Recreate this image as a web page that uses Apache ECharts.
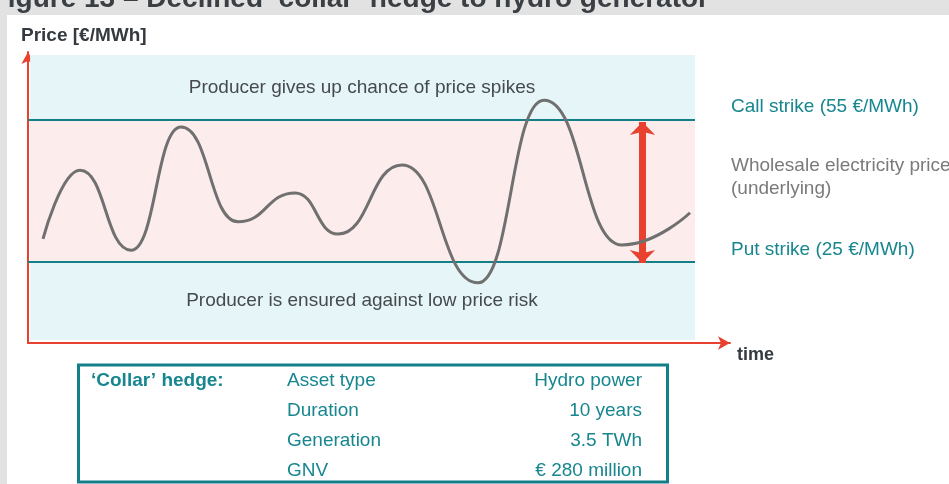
<!DOCTYPE html>
<html>
<head>
<meta charset="utf-8">
<title>Collar hedge</title>
<script src="https://cdn.jsdelivr.net/npm/echarts@6/dist/echarts.min.js"></script>
<style>
  html, body { margin: 0; padding: 0; background: #e2e2e2; }
  #chart { width: 949px; height: 484px; }
</style>
</head>
<body>
<div id="chart"></div>
<script>
// notional time axis, price in EUR/MWh
var timeVals  = [2.15, 7.46, 14.78, 21.95, 30.13, 38.31, 44.48, 53.66, 64.56, 74.03, 85.22, 94.98];
var priceVals = [29.9, 44.4, 27.5, 53.5, 33.5, 39.6, 30.9, 45.5, 20.6, 59.2, 28.6, 35.4];
var callStrike = 55;
var putStrike = 25;
var bandLabels = ['Producer gives up chance of price spikes', 'Producer is ensured against low price risk'];
var sideLabels = ['Call strike (55 €/MWh)', 'Wholesale electricity price', '(underlying)', 'Put strike (25 €/MWh)'];
var tableKeys   = ['Asset type', 'Duration', 'Generation', 'GNV'];
var tableValues = ['Hydro power', '10 years', '3.5 TWh', '€ 280 million'];

var red = '#e8412f', teal = '#137f88', tealText = '#17868f', dark = '#343a40';
var font = '"Liberation Sans", Arial, sans-serif';

var points = [];
for (var i = 0; i < timeVals.length; i++) points.push([timeVals[i], priceVals[i]]);

function label(x, y, text, size, color, align, bold) {
  return { type: 'text', x: x, y: y, z: 100,
    style: { text: text, font: (bold ? 'bold ' : '') + size + 'px ' + font, fill: color,
             align: align || 'left', verticalAlign: 'middle' } };
}

var graphics = [
  { type: 'rect', z: -10, shape: { x: 7, y: 15, width: 942, height: 469 }, style: { fill: '#ffffff' } },
  label(709, -1, 'Figure 13 – Declined ‘collar’ hedge to hydro generator', 28, '#3a3f44', 'right', true),
  label(21, 36, 'Price [€/MWh]', 19, dark, 'left', true),
  label(737, 355, 'time', 18, dark, 'left', true),
  label(362, 88, bandLabels[0], 19, '#454a4f', 'center'),
  label(362, 301, bandLabels[1], 19, '#454a4f', 'center'),
  label(731, 107, sideLabels[0], 19, tealText),
  label(731, 166, sideLabels[1], 19, '#7a7a7a'),
  label(731, 189, sideLabels[2], 19, '#7a7a7a'),
  label(731, 250, sideLabels[3], 19, tealText),
  { type: 'rect', z: 50, shape: { x: 78.5, y: 365, width: 589, height: 117 }, style: { fill: '#ffffff', stroke: teal, lineWidth: 3 } },
  label(91, 381, '‘Collar’ hedge:', 19, tealText, 'left', true)
];
for (var r = 0; r < tableKeys.length; r++) {
  graphics.push(label(287, 381 + r * 30, tableKeys[r], 19, tealText));
  graphics.push(label(642, 381 + r * 30, tableValues[r], 19, tealText, 'right'));
}

var chart = echarts.init(document.getElementById('chart'));
chart.setOption({
  backgroundColor: '#e2e2e2',
  animation: false,
  grid: { left: 28, top: 52, width: 702, height: 291 },
  xAxis: {
    type: 'value', min: 0, max: 100.72,
    axisLine: { lineStyle: { color: red, width: 2 }, symbol: ['none', 'arrow'], symbolSize: [10, 12] },
    axisTick: { show: false }, axisLabel: { show: false }, splitLine: { show: false }
  },
  yAxis: {
    type: 'value', min: 7.886, max: 69.37,
    axisLine: { show: true, lineStyle: { color: red, width: 2 }, symbol: ['none', 'arrow'], symbolSize: [10, 12] },
    axisTick: { show: false }, axisLabel: { show: false }, splitLine: { show: false }
  },
  graphic: graphics,
  series: [{
    type: 'line',
    data: points,
    smooth: 0.5,
    smoothMonotone: 'x',
    showSymbol: false,
    silent: true,
    z: 5,
    lineStyle: { color: '#707070', width: 3 },
    markArea: {
      silent: true,
      data: [
        [{ coord: [0.3, 8.5], itemStyle: { color: '#e6f5f7' } }, { coord: [95.7, 68.73] }],
        [{ coord: [0.3, putStrike], itemStyle: { color: '#fdecec' } }, { coord: [95.7, callStrike] }]
      ]
    },
    markLine: {
      silent: true,
      symbol: 'none',
      label: { show: false },
      data: [
        [{ coord: [0, callStrike], lineStyle: { color: teal, width: 2, type: 'solid' } }, { coord: [95.7, callStrike] }],
        [{ coord: [0, putStrike], lineStyle: { color: teal, width: 2, type: 'solid' } }, { coord: [95.7, putStrike] }],
        [{ coord: [88.16, 54.58], symbol: 'arrow', symbolSize: [19, 13], lineStyle: { color: red, width: 7, type: 'solid' }, itemStyle: { color: red } },
         { coord: [88.16, 24.79], symbol: 'arrow', symbolSize: [19, 13] }]
      ]
    }
  }]
});
</script>
</body>
</html>
